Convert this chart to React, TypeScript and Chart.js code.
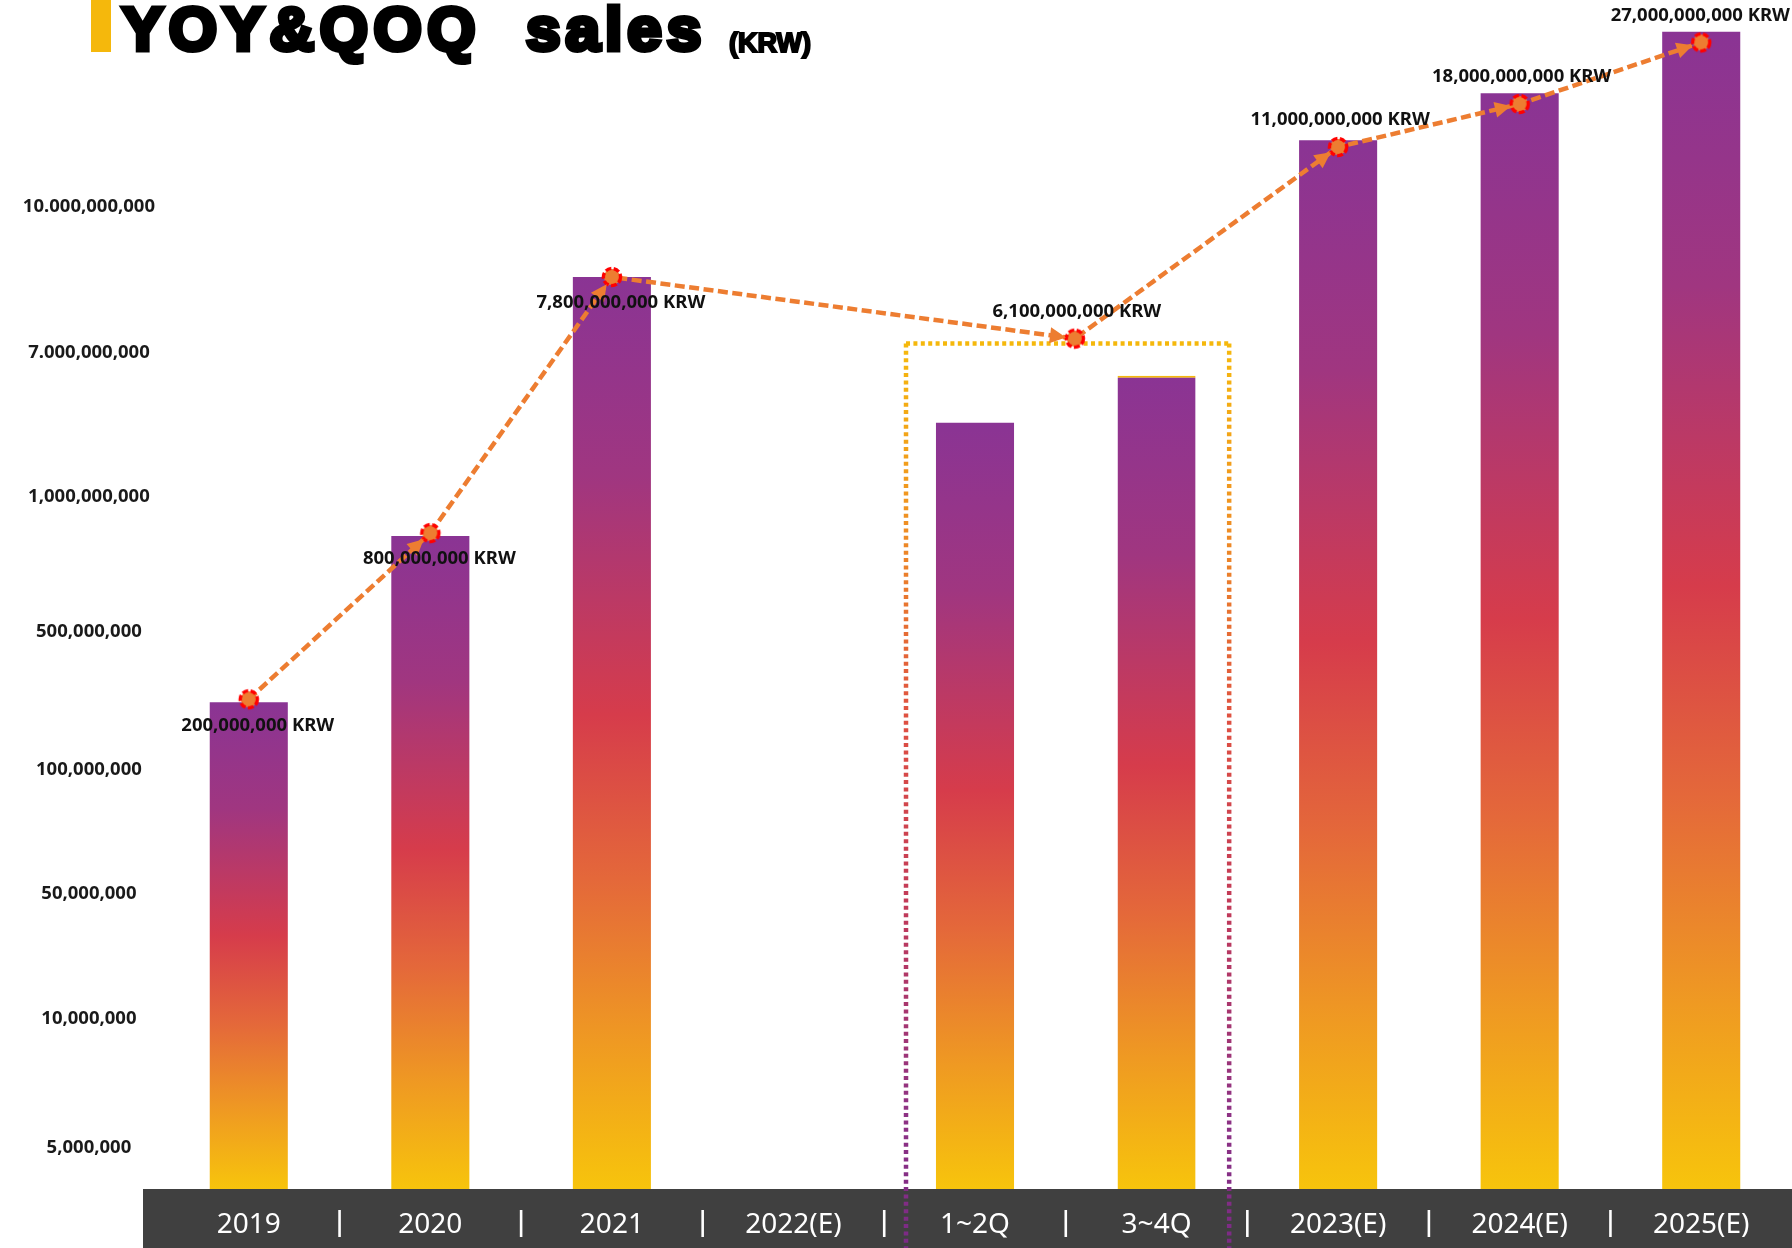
import React, { useEffect, useRef } from 'react';
import { Chart, registerables } from 'chart.js';

Chart.register(...registerables);

// ---- data ----
const categories = ['2019', '2020', '2021', '2022(E)', '1~2Q', '3~4Q', '2023(E)', '2024(E)', '2025(E)'];
// bar heights read against the picture's (non-uniform) axis, in axis units
const barLevels: (number | null)[] = [4.98, 6.68, 9.33, null, 7.84, 8.32, 10.73, 11.21, 11.84];
// trend line: category position (fractional) and axis level
const lineX = [0, 1, 2, 4.55, 6, 7, 8];
const lineLevels = [5.01, 6.71, 9.33, 8.7, 10.66, 11.1, 11.73];
const lineLabels = [
  '200,000,000 KRW',
  '800,000,000 KRW',
  '7,800,000,000 KRW',
  '6,100,000,000 KRW',
  '11,000,000,000 KRW',
  '18,000,000,000 KRW',
  '27,000,000,000 KRW',
];
const lineLabelSides = ['below', 'below', 'below', 'above', 'above', 'above', 'above'];
const yTickLabels = [
  '5,000,000',
  '10,000,000',
  '50,000,000',
  '100,000,000',
  '500,000,000',
  '1,000,000,000',
  '7.000,000,000',
  '10.000,000,000',
];
const yTickLevels = [0.42, 1.74, 3.02, 4.29, 5.7, 7.08, 8.56, 10.05];

const ORANGE = '#ED7D31';

function makeMarker(): HTMLCanvasElement {
  const c = document.createElement('canvas');
  c.width = 26;
  c.height = 26;
  const g = c.getContext('2d')!;
  g.fillStyle = ORANGE;
  g.beginPath();
  g.arc(13, 13, 8, 0, Math.PI * 2);
  g.fill();
  g.strokeStyle = '#FF0000';
  g.lineWidth = 3.4;
  g.setLineDash([6, 2.4]);
  g.beginPath();
  g.arc(13, 13, 8.6, 0, Math.PI * 2);
  g.stroke();
  return c;
}

const bandPlugin = {
  id: 'band',
  beforeDraw(chart: any) {
    const { ctx, chartArea, width, height } = chart;
    const x = chart.scales.x;
    ctx.save();
    ctx.fillStyle = '#404040';
    ctx.fillRect(chartArea.left - 15, chartArea.bottom, width, height - chartArea.bottom);
    ctx.strokeStyle = '#ffffff';
    ctx.lineWidth = 2.6;
    for (let i = 0; i < categories.length - 1; i++) {
      const px = (x.getPixelForTick(i) + x.getPixelForTick(i + 1)) / 2;
      ctx.beginPath();
      ctx.moveTo(px, chartArea.bottom + 21);
      ctx.lineTo(px, chartArea.bottom + 48);
      ctx.stroke();
    }
    ctx.restore();
  },
};

const boxPlugin = {
  id: 'hlbox',
  beforeDatasetsDraw(chart: any, _args: any, opts: any) {
    const { ctx, height } = chart;
    const xl = chart.scales.xl;
    const y = chart.scales.y;
    const l = xl.getPixelForValue(opts.from);
    const r = xl.getPixelForValue(opts.to);
    const t = y.getPixelForValue(opts.top);
    ctx.save();
    ctx.lineWidth = 4.5;
    ctx.lineCap = 'butt';
    ctx.setLineDash([4, 3.4]);
    // top edge
    ctx.strokeStyle = '#F5B80C';
    ctx.beginPath();
    ctx.moveTo(l, t);
    ctx.lineTo(r, t);
    ctx.stroke();
    // sides with gradient
    const g = ctx.createLinearGradient(0, t, 0, height);
    g.addColorStop(0, '#F6B90C');
    g.addColorStop(0.18, '#F09420');
    g.addColorStop(0.42, '#DE4F42');
    g.addColorStop(0.62, '#C23A58');
    g.addColorStop(0.85, '#8E3284');
    g.addColorStop(1, '#7B2A86');
    ctx.strokeStyle = g;
    for (const px of [l, r]) {
      ctx.beginPath();
      ctx.moveTo(px, t);
      ctx.lineTo(px, height);
      ctx.stroke();
    }
    ctx.restore();
  },
};

const arrowPlugin = {
  id: 'arrowsLabels',
  afterDatasetsDraw(chart: any) {
    const { ctx, width } = chart;
    const meta = chart.getDatasetMeta(0);
    const pts = meta.data;
    ctx.save();
    ctx.fillStyle = ORANGE;
    for (let i = 1; i < pts.length; i++) {
      const a = pts[i - 1];
      const b = pts[i];
      const dx = b.x - a.x;
      const dy = b.y - a.y;
      const len = Math.hypot(dx, dy);
      const ux = dx / len;
      const uy = dy / len;
      const tx = b.x - ux * 9;
      const ty = b.y - uy * 9;
      const bx = tx - ux * 16;
      const by = ty - uy * 16;
      ctx.beginPath();
      ctx.moveTo(tx, ty);
      ctx.lineTo(bx - uy * 8, by + ux * 8);
      ctx.lineTo(bx + uy * 8, by - ux * 8);
      ctx.closePath();
      ctx.fill();
    }
    ctx.font = 'bold 18.5px "Noto Sans"';
    ctx.fillStyle = '#111111';
    ctx.textAlign = 'center';
    ctx.textBaseline = 'middle';
    pts.forEach((p: any, i: number) => {
      const below = lineLabelSides[i] === 'below';
      const w = ctx.measureText(lineLabels[i]).width;
      let cx = p.x + (below ? 9 : 2);
      cx = Math.min(cx, width - w / 2 - 2);
      ctx.fillText(lineLabels[i], cx, p.y + (below ? 26 : -27));
    });
    ctx.restore();
  },
};

export default function App() {
  const ref = useRef<HTMLCanvasElement>(null);

  useEffect(() => {
    if (!ref.current) return;
    const marker = makeMarker();
    const chart = new Chart(ref.current, {
      type: 'bar',
      data: {
        labels: categories,
        datasets: [
          {
            type: 'line',
            data: lineX.map((x, i) => ({ x, y: lineLevels[i] })),
            xAxisID: 'xl',
            yAxisID: 'y',
            borderColor: ORANGE,
            borderWidth: 4.5,
            borderDash: [10, 4.5],
            pointStyle: marker,
            pointRadius: 10,
            tension: 0,
            fill: false,
            order: 1,
          } as any,
          {
            type: 'bar',
            data: barLevels,
            xAxisID: 'x',
            yAxisID: 'y',
            grouped: false,
            barPercentage: 0.43,
            categoryPercentage: 1,
            order: 2,
            borderColor: '#F5B80C',
            borderSkipped: 'start',
            borderWidth: (c: any) =>
              c.dataIndex === 5 ? { top: 2, left: 0, right: 0, bottom: 0 } : 0,
            backgroundColor: (c: any) => {
              const ch = c.chart;
              if (!ch.chartArea || c.type !== 'data' || c.raw == null) return '#8A3494';
              const ys = ch.scales.y;
              const top = ys.getPixelForValue(c.raw);
              const bottom = ys.getPixelForValue(0);
              const g = ch.ctx.createLinearGradient(0, top, 0, bottom);
              g.addColorStop(0, '#8A3494');
              g.addColorStop(0.22, '#A03680');
              g.addColorStop(0.48, '#D63C4B');
              g.addColorStop(0.66, '#E4683A');
              g.addColorStop(0.84, '#EF9A22');
              g.addColorStop(1, '#F7C40C');
              return g;
            },
          } as any,
        ],
      },
      options: {
        animation: false,
        responsive: false,
        layout: { autoPadding: false, padding: { top: 16, left: 0, right: 0, bottom: 0 } },
        plugins: {
          legend: { display: false },
          tooltip: { enabled: false },
          hlbox: { from: 3.62, to: 5.4, top: 8.65 },
        } as any,
        scales: {
          x: {
            type: 'category',
            position: 'bottom',
            offset: true,
            grid: { display: false, drawTicks: false, offset: true },
            border: { display: false },
            ticks: {
              color: '#ffffff',
              font: { family: '"Noto Sans"', size: 28 },
              padding: 19,
              maxRotation: 0,
              autoSkip: false,
            },
            afterFit: (s: any) => {
              s.height = 59;
            },
          },
          xl: {
            type: 'linear',
            axis: 'x',
            position: 'bottom',
            display: false,
            offset: false,
            grid: { offset: false },
            bounds: 'data',
            min: -0.5,
            max: 8.5,
          },
          y: {
            type: 'linear',
            min: 0,
            max: 12,
            grid: { display: false, drawTicks: false },
            border: { display: false },
            afterBuildTicks: (s: any) => {
              s.ticks = yTickLevels.map((v) => ({ value: v }));
            },
            ticks: {
              autoSkip: false,
              crossAlign: 'center',
              padding: 3,
              color: '#1a1a1a',
              font: { family: '"Noto Sans"', size: 18.5, weight: 'bold' },
              callback: (_v: any, i: number) => yTickLabels[i],
            },
            afterFit: (s: any) => {
              s.width = 158;
            },
          },
        } as any,
      },
      plugins: [bandPlugin, boxPlugin, arrowPlugin],
    });
    return () => chart.destroy();
  }, []);

  const titleFont = {
    fontFamily: '"Liberation Sans", Arial, sans-serif',
    fontWeight: 700,
    color: '#000',
    WebkitTextStroke: '5px #000',
    lineHeight: 1,
    whiteSpace: 'nowrap' as const,
    position: 'absolute' as const,
  };

  return (
    <div
      style={{
        position: 'absolute',
        left: 0,
        top: 0,
        width: 1792,
        height: 1248,
        background: '#ffffff',
        overflow: 'hidden',
      }}
    >
      <canvas ref={ref} width={1792} height={1248} style={{ position: 'absolute', left: 0, top: 0 }} />
      <div style={{ position: 'absolute', left: 91, top: 0, width: 20, height: 52, background: '#F5B80C' }} />
      <div style={{ ...titleFont, left: 122, top: -2, fontSize: 62, letterSpacing: 5.5 }}>YOY&amp;QOQ</div>
      <div style={{ ...titleFont, left: 526, top: -2, fontSize: 62, letterSpacing: 5 }}>sales</div>
      <div style={{ ...titleFont, left: 729, top: 30, fontSize: 27, WebkitTextStroke: '2px #000' }}>(KRW)</div>
    </div>
  );
}
